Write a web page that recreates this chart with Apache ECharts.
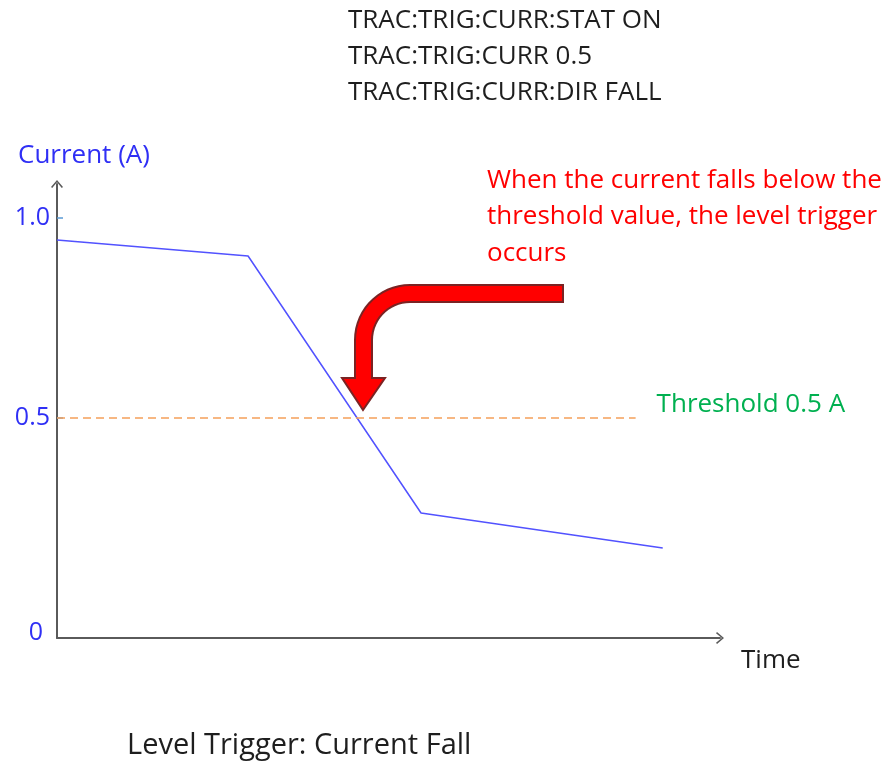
<!DOCTYPE html>
<html>
<head>
<meta charset="utf-8">
<script src="https://cdn.jsdelivr.net/npm/echarts@6/dist/echarts.min.js"></script>
<style>
  html, body { margin: 0; padding: 0; background: #fff; }
  #chart { width: 893px; height: 761px; }
</style>
</head>
<body>
<div id="chart"></div>
<script>
// Sampled current waveform (time in arbitrary units, current in A)
const timeValues = [0, 3.17, 6.04, 10.05];
const currentValues = [0.945, 0.905, 0.2625, 0.175];

// Trigger threshold and the time span of its dashed guide line
const thresholdValue = 0.5;
const thresholdSpan = [0, 9.6];

// Y tick positions and their labels; the sketch's origin sits just below zero and is labelled 0
const yLabelValues = [-0.05, 0.5, 1.0];
const yLabelTexts = ['0', '0.5', '1.0'];
const yTickValues = [0.5, 1.0];

// SCPI commands shown above the plot
const commandLines = ['TRAC:TRIG:CURR:STAT ON', 'TRAC:TRIG:CURR 0.5', 'TRAC:TRIG:CURR:DIR FALL'];
const noteLines = ['When the current falls below the', 'threshold value, the level trigger', 'occurs'];

const FONT = '"Open Sans", Lato, sans-serif';
const BLUE_TEXT = '#2f2ff5';
const AXIS_GREY = '#5a5a5a';

// Open chevron heads for the axis ends (drawn pointing up; ECharts rotates them)
const chevron = 'path://M0,7 L6,0 L12,7 L10.8,8 L6,2.2 L1.2,8 Z';

const labelMap = {};
yLabelValues.forEach((v, i) => { labelMap[v.toFixed(3)] = yLabelTexts[i]; });

// Outline of the bent call-out arrow: a horizontal shaft that turns down into an arrowhead
function bentArrowPoints() {
  const cx = 410, cy = 340, rOut = 55, rIn = 38;
  const pts = [[563, 285]];
  for (let a = 270; a >= 180; a -= 6) {
    const r = a * Math.PI / 180;
    pts.push([cx + rOut * Math.cos(r), cy + rOut * Math.sin(r)]);
  }
  pts.push([355, 378], [342, 378], [363, 410], [385, 378], [372, 378]);
  for (let a = 180; a <= 270; a += 6) {
    const r = a * Math.PI / 180;
    pts.push([cx + rIn * Math.cos(r), cy + rIn * Math.sin(r)]);
  }
  pts.push([563, 302]);
  return pts;
}

function textBlock(x, y, text, color, size, lineHeight) {
  const style = { text, fill: color, font: size + 'px ' + FONT, verticalAlign: 'middle', align: 'left' };
  if (lineHeight) style.lineHeight = lineHeight;
  return { type: 'text', x, y, style, z: 20 };
}

const chart = echarts.init(document.getElementById('chart'), null, { renderer: 'canvas' });

chart.setOption({
  backgroundColor: '#ffffff',
  animation: false,
  grid: { left: 57, right: 173, top: 184, bottom: 123, containLabel: false },
  xAxis: {
    type: 'value',
    min: 0,
    max: 11,
    axisLine: {
      show: true,
      onZero: false,
      symbol: ['none', chevron],
      symbolSize: [12, 8],
      lineStyle: { color: AXIS_GREY, width: 2 }
    },
    axisTick: { show: false },
    axisLabel: { show: false },
    splitLine: { show: false }
  },
  yAxis: {
    type: 'value',
    min: -0.05,
    max: 1.085,
    axisLine: {
      show: true,
      onZero: false,
      symbol: ['none', chevron],
      symbolSize: [12, 8],
      lineStyle: { color: AXIS_GREY, width: 2 }
    },
    axisTick: {
      show: true,
      inside: true,
      length: 6,
      customValues: yTickValues,
      lineStyle: { color: '#5b9bd5', width: 1.5 }
    },
    axisLabel: {
      show: true,
      customValues: yLabelValues,
      margin: 7,
      color: BLUE_TEXT,
      fontFamily: FONT,
      fontSize: 25,
      formatter: v => {
        const txt = labelMap[Number(v).toFixed(3)] || '';
        // the origin label sits a little up and to the left of the corner
        return txt === '0' ? '{o|0}' : txt;
      },
      rich: {
        o: { color: BLUE_TEXT, fontFamily: FONT, fontSize: 25, padding: [0, 7, 10, 0] }
      }
    },
    splitLine: { show: false }
  },
  series: [{
    type: 'line',
    data: timeValues.map((t, i) => [t, currentValues[i]]),
    showSymbol: false,
    lineStyle: { color: '#5252ff', width: 1.5 },
    z: 3,
    markLine: {
      silent: true,
      symbol: ['none', 'none'],
      lineStyle: { color: '#f5a05a', width: 1.5, type: [8, 5] },
      label: {
        show: true,
        position: 'end',
        distance: 21,
        color: '#00b050',
        fontFamily: FONT,
        fontSize: 26,
        verticalAlign: 'bottom',
        formatter: 'Threshold 0.5 A'
      },
      data: [[
        { coord: [thresholdSpan[0], thresholdValue] },
        { coord: [thresholdSpan[1], thresholdValue] }
      ]]
    }
  }],
  graphic: [
    textBlock(348, 57, commandLines.join('\n'), '#1e1e1e', 26, 36),
    textBlock(487, 217, noteLines.join('\n'), '#ff0000', 26, 36.5),
    textBlock(18, 156, 'Current (A)', BLUE_TEXT, 26),
    textBlock(741, 661, 'Time', '#1e1e1e', 26),
    textBlock(127, 746, 'Level Trigger: Current Fall', '#1e1e1e', 29),
    {
      type: 'polygon',
      shape: { points: bentArrowPoints() },
      style: { fill: '#ff0000', stroke: '#7a2323', lineWidth: 2, lineJoin: 'miter' },
      z: 10
    }
  ]
});
</script>
</body>
</html>
